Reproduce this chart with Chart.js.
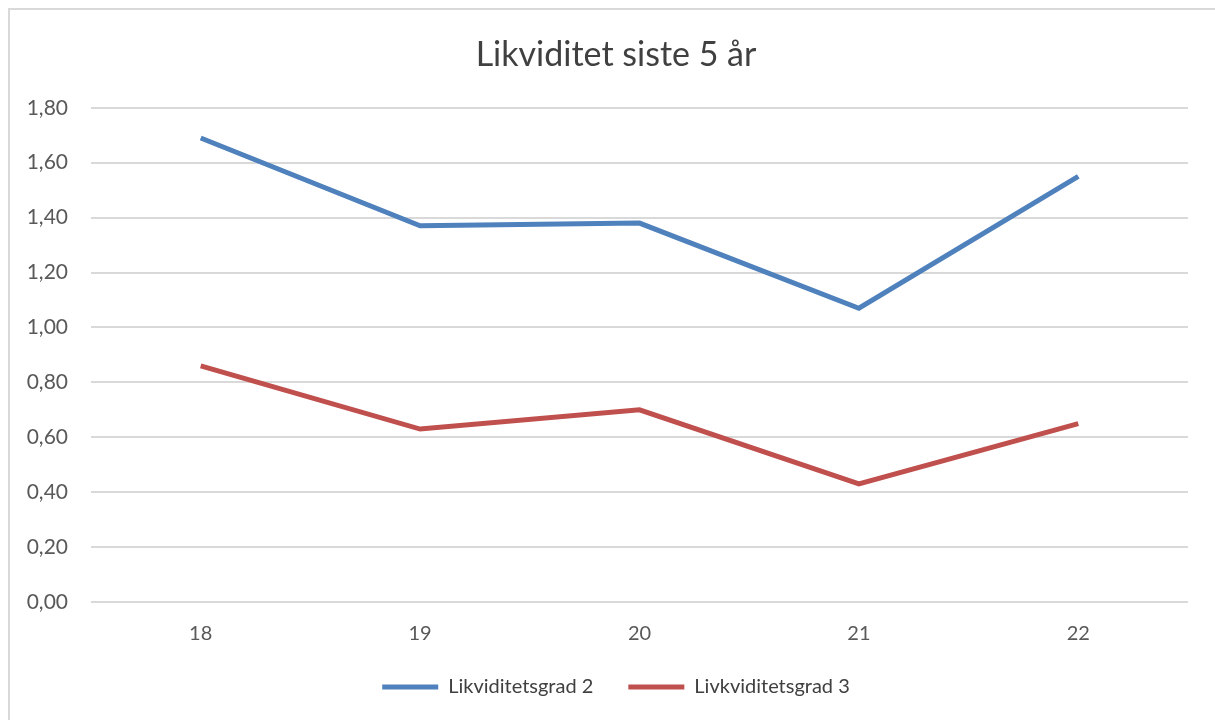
<!DOCTYPE html>
<html>
<head>
<meta charset="utf-8">
<script src="https://cdn.jsdelivr.net/npm/chart.js@4"></script>
<style>
  html, body { margin: 0; padding: 0; background: #fff; }
  #frame { position: absolute; left: 8px; top: 8px; width: 1220px; height: 720px; border: 2px solid #d9d9d9; box-sizing: border-box; }
  #wrap { position: absolute; left: 0; top: 0; width: 1215px; height: 720px; }
</style>
</head>
<body>
<div id="frame"></div>
<div id="wrap"><canvas id="chart"></canvas></div>
<script>
// chart data
const years = ["18", "19", "20", "21", "22"];
const likviditetsgrad2 = [1.69, 1.37, 1.38, 1.07, 1.55];
const likviditetsgrad3 = [0.86, 0.63, 0.70, 0.43, 0.65];

const blue = "#4f81bd";
const red = "#c0504d";
const font = "Lato, 'Open Sans', sans-serif";

new Chart(document.getElementById("chart"), {
    type: "line",
    data: {
        labels: years,
        datasets: [{
            label: "Likviditetsgrad 2",
            data: likviditetsgrad2,
            borderColor: blue,
            backgroundColor: blue,
            borderWidth: 5,
            pointRadius: 0,
            tension: 0
        }, {
            label: "Livkviditetsgrad 3",
            data: likviditetsgrad3,
            borderColor: red,
            backgroundColor: red,
            borderWidth: 5,
            pointRadius: 0,
            tension: 0
        }]
    },
    options: {
        responsive: true,
        maintainAspectRatio: false,
        animation: false,
        layout: { padding: { left: 20, right: 3, bottom: 13 } },
        plugins: {
            title: {
                display: true,
                text: "Likviditet siste 5 år",
                color: "#404040",
                font: { family: font, size: 34, weight: "normal" },
                padding: { top: 35, bottom: 32 }
            },
            legend: {
                position: "bottom",
                labels: {
                    color: "#404040",
                    font: { family: font, size: 20 },
                    boxWidth: 56,
                    boxHeight: 5,
                    padding: 35,
                    generateLabels(chart) {
                        return chart.data.datasets.map((ds, i) => ({
                            text: ds.label,
                            fillStyle: ds.borderColor,
                            strokeStyle: ds.borderColor,
                            lineWidth: 0,
                            fontColor: "#404040",
                            datasetIndex: i
                        }));
                    }
                }
            },
            tooltip: { enabled: false }
        },
        scales: {
            x: {
                offset: true,
                grid: { display: false, drawTicks: false },
                border: { display: false },
                ticks: { color: "#595959", font: { family: font, size: 20 }, padding: 20 },
                afterFit(scale) { scale.height = 40; }
            },
            y: {
                min: 0,
                max: 1.8,
                grid: { color: "#d9d9d9", lineWidth: 2, drawTicks: false },
                border: { display: false },
                ticks: {
                    stepSize: 0.2,
                    color: "#595959",
                    font: { family: font, size: 21 },
                    padding: 23,
                    callback: v => v.toFixed(2).replace(".", ",")
                },
                afterFit(scale) { scale.width = 71; }
            },
            // empty right axis, only reserves space on the right side
            yRight: {
                position: "right",
                display: true,
                grid: { display: false, drawTicks: false },
                border: { display: false },
                ticks: { display: false },
                afterFit(scale) { scale.width = 24; }
            }
        }
    }
});
</script>
</body>
</html>
